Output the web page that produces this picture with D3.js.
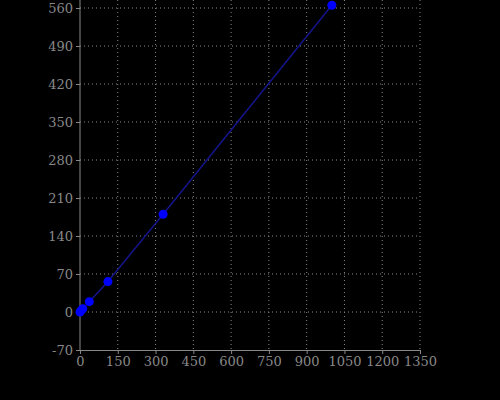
<!DOCTYPE html><html><head><meta charset="utf-8"><script src="https://cdn.jsdelivr.net/npm/d3@7"></script>
<style>body{margin:0;background:#000}</style></head><body><svg width="500" height="400"></svg><script>
const xValues=[0,5,11,37,111,330,1000];
const yValues=[0,3,6,19,56,180,565];
const xTicks=[0,150,300,450,600,750,900,1050,1200,1350];
const yTicks=[-70,0,70,140,210,280,350,420,490,560];
const svg=d3.select("svg");
svg.append("rect").attr("width",500).attr("height",400).attr("fill","#000");
const x=d3.scaleLinear().domain([0,1350]).range([80,420]);
const y=d3.scaleLinear().domain([-70,560]).range([350,8]);
const g=svg.append("g");
g.selectAll(".vg").data(xTicks.slice(1)).enter().append("line").attr("x1",d=>x(d)).attr("x2",d=>x(d)).attr("y1",0).attr("y2",350).attr("stroke","#888").attr("stroke-dasharray","1,3");
g.selectAll(".hg").data(yTicks.slice(1)).enter().append("line").attr("y1",d=>y(d)).attr("y2",d=>y(d)).attr("x1",80).attr("x2",420).attr("stroke","#888").attr("stroke-dasharray","1,3");
const fmt=d=>String(d);
const xa=svg.append("g").attr("transform","translate(0,350)").call(d3.axisBottom(x).tickValues(xTicks).tickSize(4).tickFormat(fmt));
const ya=svg.append("g").attr("transform","translate(80,0)").call(d3.axisLeft(y).tickValues(yTicks).tickSize(4).tickFormat(fmt));
[xa,ya].forEach(a=>{a.selectAll("path,line").attr("stroke","#888");a.selectAll("text").attr("fill","#888").attr("font-family","DejaVu Serif, serif").attr("font-size",13);a.select(".domain").attr("stroke","#888");});
ya.select(".domain").attr("d","M0,0V350");
const pts=xValues.map((v,i)=>[v,yValues[i]]);
svg.append("path").datum(pts).attr("d",d3.line().x(d=>x(d[0])).y(d=>y(d[1]))).attr("fill","none").attr("stroke","#14148c").attr("stroke-width",1.5);
svg.selectAll("circle").data(pts).enter().append("circle").attr("cx",d=>x(d[0])).attr("cy",d=>y(d[1])).attr("r",4.5).attr("fill","#0000ff");
</script></body></html>
